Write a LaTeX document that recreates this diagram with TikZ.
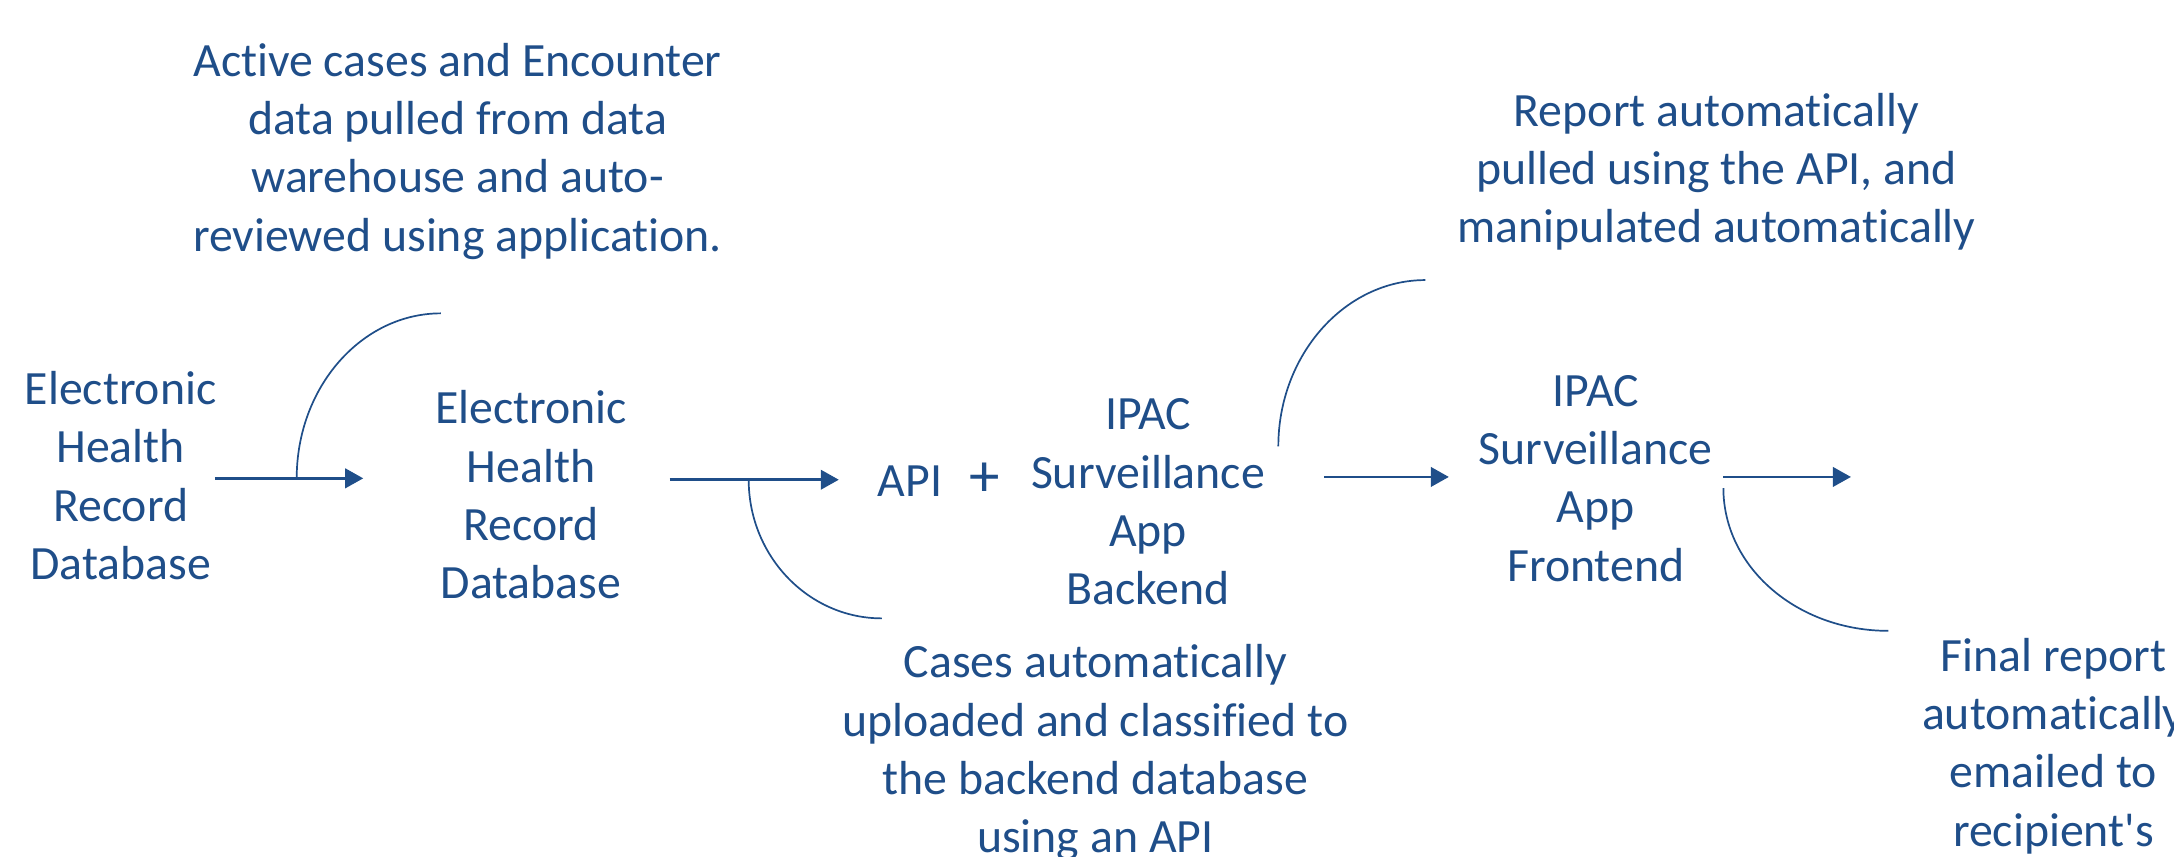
\documentclass[tikz,border=0pt]{standalone}
\usepackage{fontspec}
\setmainfont{Carlito}[Ligatures={TeXOff,NoCommon}]
\usetikzlibrary{arrows.meta}
\definecolor{tblue}{HTML}{1F4E89}
\tikzset{
  lbl/.style={align=center, inner sep=0pt, text=tblue, font=\fontsize{9.8}{11.95}\selectfont},
  arr/.style={draw=tblue, line width=0.55pt, -{Triangle[length=0.13cm,width=0.14cm]}},
  hook/.style={draw=tblue, line width=0.35pt},
}
\begin{document}
\begin{tikzpicture}[x=0.01cm, y=-0.01cm]
\useasboundingbox (0,0) rectangle (1568,618);
\clip (0,0) rectangle (1568,618);
% nodes
\node[lbl] (A) at (87,343) {Electronic\\Health\\Record\\Database};
\node[lbl] (B) at (383,357) {Electronic\\Health\\Record\\Database};
\node[lbl] (api) at (677,346) {API\hspace{5.5pt}{\fontsize{12.5}{12.5}\selectfont +}};
\node[lbl] (C) at (828,362) {IPAC\\Surveillance\\App\\Backend};
\node[lbl] (D) at (1151,345) {IPAC\\Surveillance\\App\\Frontend};
% annotations
\node[lbl] (t1) at (330,109) {Active cases and Encounter\\data pulled from data\\warehouse and auto-\\reviewed using application.};
\node[lbl] (t2) at (790,543) {Cases automatically\\uploaded and classified to\\the backend database\\using an API};
\node[lbl] (t3) at (1238,124) {Report automatically\\pulled using the API, and\\manipulated automatically};
\node[lbl] (t4) at (1481,538) {Final report\\automatically\\emailed to\\recipient's};
% arrow end points
\coordinate (a1s) at (155,345); \coordinate (a1e) at (262,345);
\coordinate (a2s) at (483,346); \coordinate (a2e) at (605,346);
\coordinate (a3s) at (955,344); \coordinate (a3e) at (1045,344);
\coordinate (a4s) at (1243,344); \coordinate (a4e) at (1335,344);
\draw[arr] (a1s) -- (a1e);
\draw[arr] (a2s) -- (a2e);
\draw[arr] (a3s) -- (a3e);
\draw[arr] (a4s) -- (a4e);
% callout curves
\coordinate (h1s) at (214,345); \coordinate (h1e) at (318,226);
\coordinate (h2s) at (540,346); \coordinate (h2e) at (636,446);
\coordinate (h3s) at (922,322); \coordinate (h3e) at (1028,202);
\coordinate (h4s) at (1243,352); \coordinate (h4e) at (1362,455);
\draw[hook] (h1s) .. controls (214,279) and (261,226) .. (h1e);
\draw[hook] (h2s) .. controls (540,401) and (583,446) .. (h2e);
\draw[hook] (h3s) .. controls (922,256) and (970,202) .. (h3e);
\draw[hook] (h4s) .. controls (1243,409) and (1296,455) .. (h4e);
\end{tikzpicture}
\end{document}
